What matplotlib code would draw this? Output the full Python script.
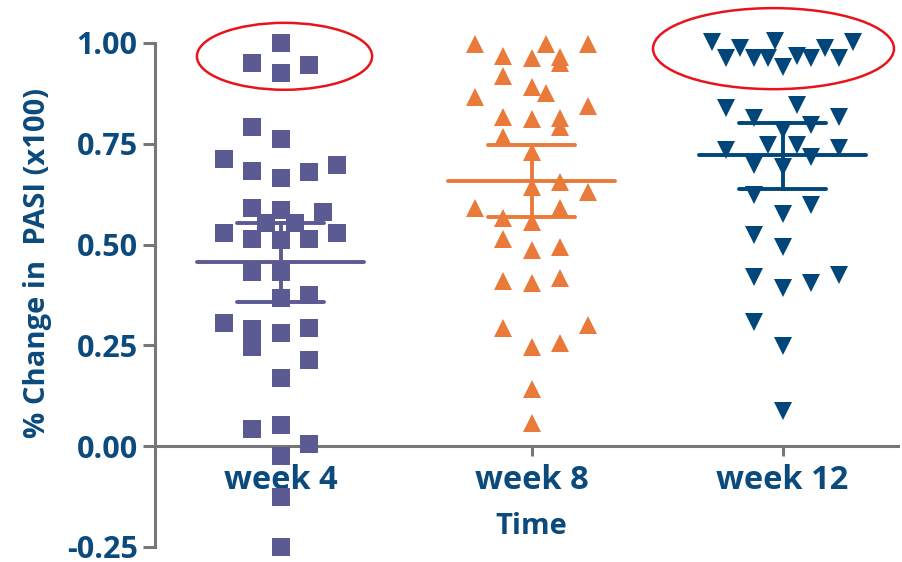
import numpy as np
import matplotlib
matplotlib.use("Agg")
import matplotlib.pyplot as plt
from matplotlib.patches import Ellipse

plt.rcParams["font.family"] = ["Open Sans", "DejaVu Sans"]
plt.rcParams["font.weight"] = "bold"

categories = ["week 4", "week 8", "week 12"]

# values; offsets are the horizontal spread (in marker steps)
week4_vals = [1.00, 0.951, 0.945, 0.925, 0.791, 0.763, 0.712, 0.697, 0.683, 0.679,
              0.666, 0.590, 0.586, 0.581, 0.553, 0.553, 0.530, 0.530, 0.515, 0.511,
              0.515, 0.433, 0.433, 0.367, 0.375, 0.306, 0.290, 0.245, 0.281, 0.294,
              0.213, 0.170, 0.042, 0.053, 0.006, -0.025, -0.127, -0.251]
week4_off = [0, -1, 1, 0, -1, 0, -2, 2, -1, 1,
             0, -1, 0, 1.5, -0.5, 0.5, -2, 2, -1, 0,
             1, -1, 0, 0, 1, -2, -1, -1, 0, 1,
             1, 0, -1, 0, 1, 0, 0, 0]

week8_vals = [0.998, 0.998, 0.998, 0.968, 0.964, 0.966, 0.950, 0.918, 0.890, 0.877,
              0.867, 0.844, 0.817, 0.811, 0.813, 0.791, 0.768, 0.730, 0.643, 0.656,
              0.631, 0.590, 0.590, 0.565, 0.557, 0.515, 0.486, 0.495, 0.410, 0.404,
              0.416, 0.292, 0.300, 0.246, 0.255, 0.143, 0.058]
week8_off = [-2, 0.5, 2, -1, 0, 1, 1, -1, 0, 0.5,
             -2, 2, -1, 0, 1, 1, -1, 0, 0, 1,
             2, -2, 1, -1, 0, -1, 0, 1, -1, 0,
             1, -1, 2, 0, 1, 0, 0]

week12_vals = [1.003, 0.964, 0.987, 0.962, 0.964, 1.006, 0.941, 0.968, 0.962, 0.987,
               0.964, 1.003, 0.839, 0.846, 0.817, 0.813, 0.797, 0.784, 0.734, 0.747,
               0.747, 0.739, 0.718, 0.697, 0.693, 0.623, 0.598, 0.577, 0.524, 0.495,
               0.420, 0.393, 0.404, 0.424, 0.308, 0.248, 0.088]
week12_off = [-2.5, -2, -1.5, -1, -0.5, -0.25, 0, 0.5, 1, 1.5,
              2, 2.5, -2, 0.5, 2, -1, 1, 0, -2, -0.5,
              0.5, 2, 1, -1, 0, -1, 1, 0, -1, 0,
              -1, 0, 1, 2, -1, 0, 0]

# mean and SEM bars as drawn
means = [0.457, 0.658, 0.722]
upper = [0.553, 0.747, 0.802]
lower = [0.358, 0.569, 0.639]

colors = ["#5c5a92", "#ea7a3a", "#00467a"]
markers = ["s", "^", "v"]
text_col = "#0b4a7c"
axis_col = "#777777"

STEP = 0.113

fig = plt.figure(figsize=(9.02, 5.62), dpi=100)
ax = fig.add_axes([155 / 902, 1 - 547 / 562, 743 / 902, (547 - 43) / 562])

groups = [(week4_vals, week4_off), (week8_vals, week8_off), (week12_vals, week12_off)]
for i, (vals, offs) in enumerate(groups):
    x = i + np.array(offs) * STEP
    ax.plot(x, vals, linestyle="none", marker=markers[i], markersize=13.5,
            color=colors[i], markeredgewidth=0, clip_on=False, zorder=3)
    # error bars
    kw = dict(color=colors[i], lw=2.8, solid_capstyle="round", zorder=4)
    ax.plot([i - 0.333, i + 0.333], [means[i]] * 2, **kw)
    ax.plot([i - 0.175, i + 0.175], [upper[i]] * 2, **kw)
    ax.plot([i - 0.175, i + 0.175], [lower[i]] * 2, **kw)
    ax.plot([i, i], [lower[i], upper[i]], color=colors[i], lw=2.8, zorder=4)

# red ellipses
ax.add_patch(Ellipse((0.016, 0.967), 0.698, 0.166, fill=False, ec="#e8141c",
                     lw=1.8, clip_on=False, zorder=5))
ax.add_patch(Ellipse((1.964, 0.986), 0.960, 0.201, fill=False, ec="#e8141c",
                     lw=1.8, clip_on=False, zorder=5))

ax.set_xlim(-0.5, 2.46)
ax.set_ylim(-0.25, 1.0)
ax.set_xticks(range(3))
ax.set_xticklabels(categories)
yt = [-0.25, 0, 0.25, 0.5, 0.75, 1.0]
ax.set_yticks(yt)
ax.set_yticklabels([f"{v:.2f}" for v in yt])

ax.spines["top"].set_visible(False)
ax.spines["right"].set_visible(False)
ax.spines["bottom"].set_position(("data", 0))
for s in ["left", "bottom"]:
    ax.spines[s].set_color(axis_col)
    ax.spines[s].set_linewidth(2.2)
ax.tick_params(axis="y", length=8.5, width=2.2, color=axis_col, pad=4,
               labelsize=22, labelcolor=text_col)
ax.tick_params(axis="x", length=7, width=2.2, color=axis_col, pad=6,
               labelsize=23.5, labelcolor=text_col)
for lab in ax.get_xticklabels() + ax.get_yticklabels():
    lab.set_fontweight("bold")

ax.text(1, -0.198, "Time", ha="center", va="center", fontsize=21,
        fontweight="bold", color=text_col)
fig.text(38 / 902, 1 - 263 / 562, "% Change in  PASI (x100)", rotation=90,
         ha="center", va="center", fontsize=21, fontweight="bold", color=text_col)

fig.savefig("out.png", dpi=100)
